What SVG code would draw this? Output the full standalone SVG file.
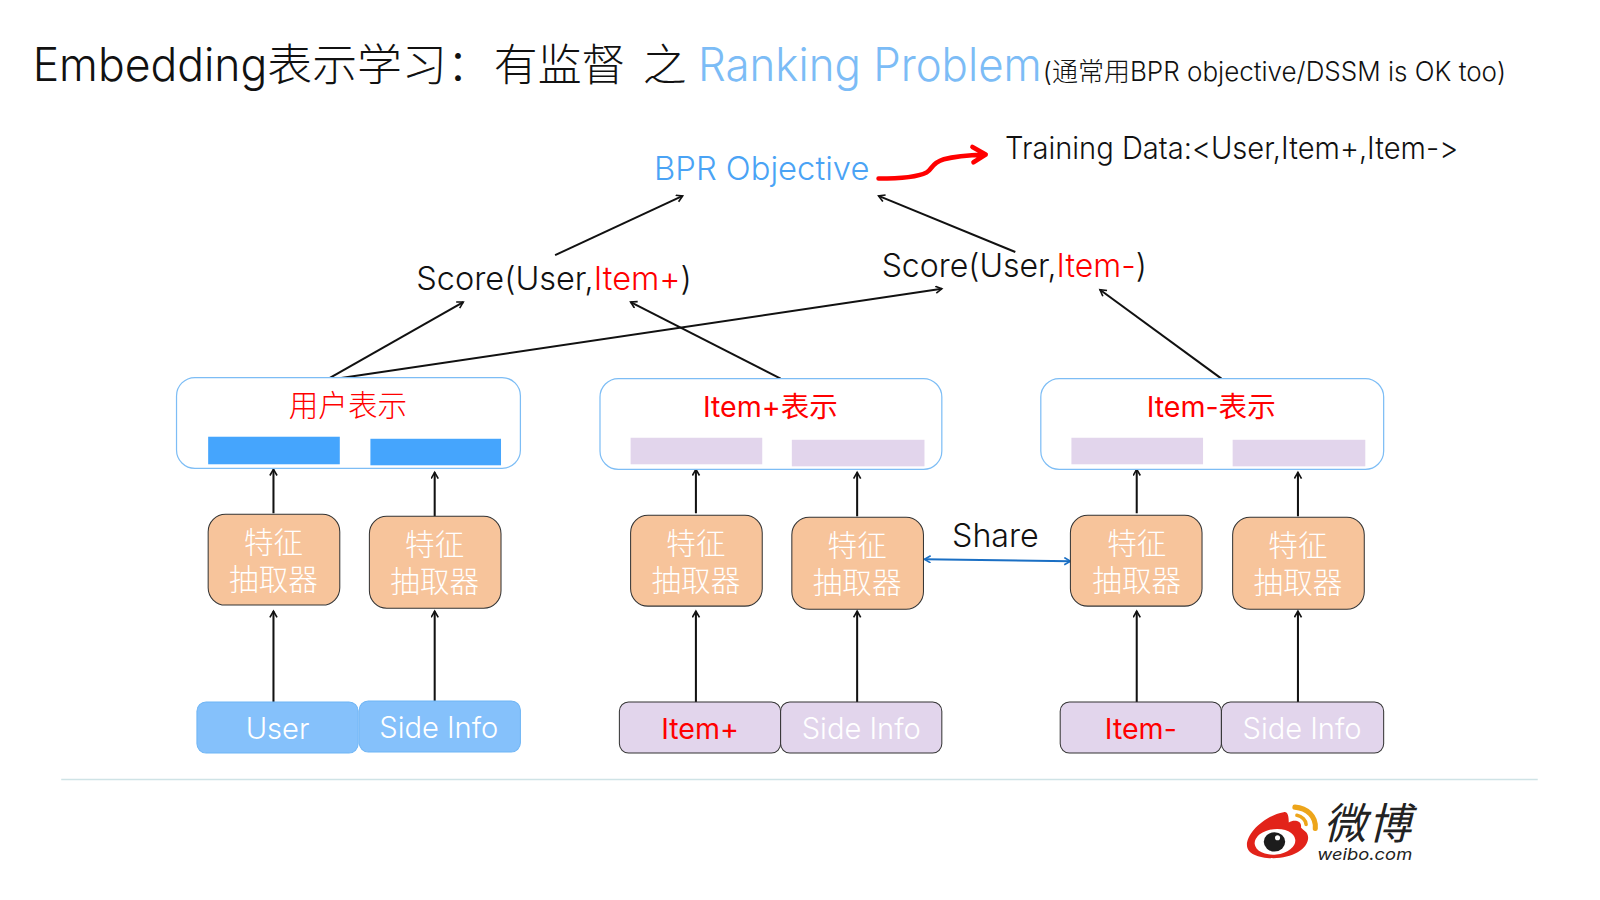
<svg xmlns="http://www.w3.org/2000/svg" width="1600" height="900" viewBox="0 0 1600 900">
<style>
text{font-family:"Inter","Noto Sans CJK SC",sans-serif;font-weight:300;font-variant-ligatures:none;font-feature-settings:"calt" 0,"liga" 0}
.t{font-size:32px;fill:#111}
.red{fill:#f00}
.blue{fill:#4aa3f5}
.rep{fill:#fff;stroke:#7dbdf5;stroke-width:1.2}
.ext{fill:#f7c49b;stroke:#333;stroke-width:1}
.ex{font-size:29px;fill:#fff;text-anchor:middle}
.in{font-size:28.500px;text-anchor:middle}
.m{font-weight:400;font-size:28px}
.bb{fill:#45a5fd}
.pb{fill:#e2d5ec}
.ib{fill:#85c1fb;stroke:#6fb5f5;stroke-width:1}
.ip{fill:#e2d5ec;stroke:#333;stroke-width:1}
.a{stroke:#111;stroke-width:2;fill:none;marker-end:url(#ah)}
</style>
<defs>
<marker id="ah" markerWidth="10" markerHeight="10" refX="7" refY="4" orient="auto" markerUnits="userSpaceOnUse"><path d="M1 0.5L7 4L1 7.5" fill="none" stroke="#111" stroke-width="1.6"/></marker>
<marker id="sh" markerWidth="10" markerHeight="10" refX="7" refY="4" orient="auto-start-reverse" markerUnits="userSpaceOnUse"><path d="M1 0.5L7 4L1 7.5" fill="none" stroke="#1a6fc4" stroke-width="1.6"/></marker>
</defs>
<g transform="scale(1.0204)">
<g id="title" fill="#111">
<text x="32" y="79" font-size="45" textLength="230" lengthAdjust="spacingAndGlyphs">Embedding</text>
<text x="262" y="79" font-size="44">表示学习：</text>
<text x="484" y="79" font-size="43">有监督</text>
<text x="630" y="79" font-size="43">之</text>
<text x="684" y="79" font-size="45" fill="#7cbcf6" textLength="337" lengthAdjust="spacingAndGlyphs">Ranking Problem</text>
<text x="1022" y="79" font-size="26" textLength="454" lengthAdjust="spacingAndGlyphs">(通常用BPR objective/DSSM is OK too)</text>
</g>
<g id="connectors">
<path class="a" d="M544 250L669 192"/>
<path class="a" d="M995 247L861 192"/>
<path class="a" d="M322 371L454 296"/>
<path class="a" d="M331 371L923 283"/>
<path class="a" d="M765 371L618 296"/>
<path class="a" d="M1197 371L1078 284"/>
<path class="a" d="M268 503V460"/>
<path class="a" d="M426 506V463"/>
<path class="a" d="M682 503V460"/>
<path class="a" d="M840 506V463"/>
<path class="a" d="M1114 503V460"/>
<path class="a" d="M1272 506V463"/>
<path class="a" d="M268 688V599"/>
<path class="a" d="M426 688V599"/>
<path class="a" d="M682 688V599"/>
<path class="a" d="M840 688V599"/>
<path class="a" d="M1114 688V599"/>
<path class="a" d="M1272 688V599"/>
<path d="M906 548L1049 550" stroke="#1a6fc4" stroke-width="2" fill="none" marker-start="url(#sh)" marker-end="url(#sh)"/>
<path d="M861 175C885 175 900 173 908 169C914 166 912 160 925 156C936 153 950 152 965 151.500M953 144L966 151.500L954 159" stroke="#f00" stroke-width="4.500" fill="none" stroke-linecap="round" stroke-linejoin="round"/>
</g>
<g id="bpr"><text class="blue" x="641" y="176" font-size="32" textLength="211" lengthAdjust="spacingAndGlyphs">BPR Objective</text></g>
<g id="training"><text x="985" y="156" font-size="30" fill="#111" textLength="444" lengthAdjust="spacingAndGlyphs">Training Data:&lt;User,Item+,Item-&gt;</text></g>
<g id="score-pos"><text class="t" x="408" y="284" textLength="270" lengthAdjust="spacingAndGlyphs">Score(User,<tspan class="red">Item+</tspan>)</text></g>
<g id="score-neg"><text class="t" x="864" y="271" textLength="260" lengthAdjust="spacingAndGlyphs">Score(User,<tspan class="red">Item-</tspan>)</text></g>
<g id="rep-user"><rect class="rep" x="173" y="370" width="337" height="89" rx="18"/><text class="in red" x="341" y="408" style="font-size:29px">用户表示</text><rect class="bb" x="204" y="428" width="129" height="27"/><rect class="bb" x="363" y="430" width="128" height="26"/></g>
<g id="rep-pos"><rect class="rep" x="588" y="371" width="335" height="89" rx="18"/><text class="in red m" x="755" y="409">Item+表示</text><rect class="pb" x="618" y="429" width="129" height="26"/><rect class="pb" x="776" y="431" width="130" height="26"/></g>
<g id="rep-neg"><rect class="rep" x="1020" y="371" width="336" height="89" rx="18"/><text class="in red m" x="1187" y="409">Item-表示</text><rect class="pb" x="1050" y="429" width="129" height="26"/><rect class="pb" x="1208" y="431" width="130" height="26"/></g>
<g id="ext1"><rect class="ext" x="204" y="504" width="129" height="89" rx="17"/><text class="ex" x="268" y="542">特征</text><text class="ex" x="268" y="578">抽取器</text></g>
<g id="ext2"><rect class="ext" x="362" y="506" width="129" height="90" rx="17"/><text class="ex" x="426" y="544">特征</text><text class="ex" x="426" y="580">抽取器</text></g>
<g id="ext3"><rect class="ext" x="618" y="505" width="129" height="89" rx="17"/><text class="ex" x="682" y="543">特征</text><text class="ex" x="682" y="579">抽取器</text></g>
<g id="ext4"><rect class="ext" x="776" y="507" width="129" height="90" rx="17"/><text class="ex" x="840" y="545">特征</text><text class="ex" x="840" y="581">抽取器</text></g>
<g id="ext5"><rect class="ext" x="1049" y="505" width="129" height="89" rx="17"/><text class="ex" x="1114" y="543">特征</text><text class="ex" x="1114" y="579">抽取器</text></g>
<g id="ext6"><rect class="ext" x="1208" y="507" width="129" height="90" rx="17"/><text class="ex" x="1272" y="545">特征</text><text class="ex" x="1272" y="581">抽取器</text></g>
<g id="share"><text class="t" x="933" y="536" textLength="85" lengthAdjust="spacingAndGlyphs">Share</text></g>
<g id="in-user"><rect class="ib" x="193" y="688" width="158" height="50" rx="9"/><text class="in" x="272" y="724" fill="#fff">User</text></g>
<g id="in-side1"><rect class="ib" x="352" y="687" width="158" height="50" rx="9"/><text class="in" x="430" y="723" fill="#fff">Side Info</text></g>
<g id="in-pos"><rect class="ip" x="607" y="688" width="158" height="50" rx="9"/><text class="in red m" x="686" y="724">Item+</text></g>
<g id="in-side2"><rect class="ip" x="765" y="688" width="158" height="50" rx="9"/><text class="in" x="844" y="724" fill="#fff">Side Info</text></g>
<g id="in-neg"><rect class="ip" x="1039" y="688" width="158" height="50" rx="9"/><text class="in red m" x="1118" y="724">Item-</text></g>
<g id="in-side3"><rect class="ip" x="1197" y="688" width="159" height="50" rx="9"/><text class="in" x="1276" y="724" fill="#fff">Side Info</text></g>
<path id="rule" d="M60 764H1507" stroke="#cfe3e6" stroke-width="1.500"/>
<g id="logo">
<path d="M1258 796C1240 799 1222 816 1222 828C1222 837 1234 841 1248 841C1266 841 1282 832 1282 821C1282 815 1277 814 1275 811C1276 804 1268 803 1263 806C1263 800 1262 795 1258 796Z" fill="#e2231a"/>
<ellipse cx="1249.500" cy="825" rx="20" ry="12.500" fill="#fff" transform="rotate(-6 1249.500 825)"/>
<ellipse cx="1249" cy="825" rx="10.500" ry="9.500" fill="#1c1c1c"/><circle cx="1252" cy="821" r="2.500" fill="#fff"/>
<path d="M1269 791C1281 792 1290 800 1289 812" fill="none" stroke="#eda51a" stroke-width="5" stroke-linecap="round"/>
<path d="M1271 799C1276 800 1280 804 1280 808" fill="none" stroke="#eda51a" stroke-width="3.500" stroke-linecap="round"/>
<text x="1297" y="822" font-size="42" font-style="italic" fill="#222" style="font-weight:400;letter-spacing:2px">微博</text>
<text x="1291" y="843" font-size="16" font-style="italic" fill="#222" style="font-weight:400" textLength="93" lengthAdjust="spacingAndGlyphs">weibo.com</text>
</g>
</g>
</svg>
